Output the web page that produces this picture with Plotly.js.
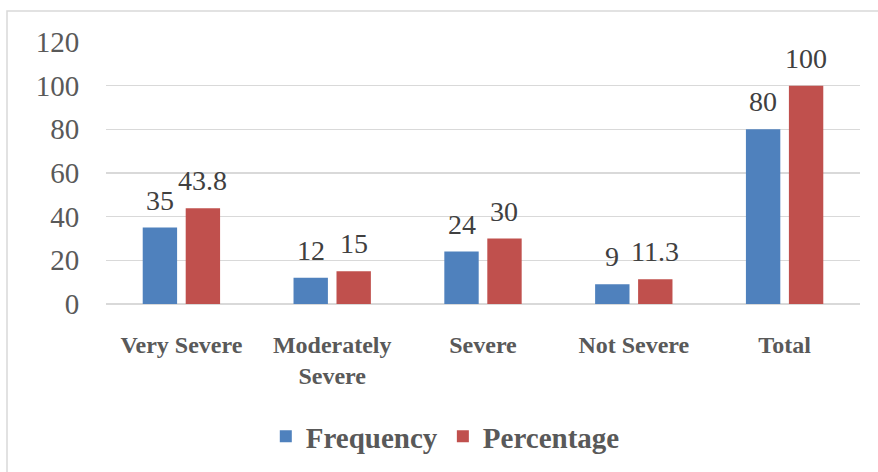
<!DOCTYPE html>
<html>
<head>
<meta charset="utf-8">
<script src="https://cdn.plot.ly/plotly-3.0.1.min.js"></script>
<style>
  html, body { margin: 0; padding: 0; background: #fff; }
  #chart { width: 878px; height: 472px; }
</style>
</head>
<body>
<div id="chart"></div>
<script>
// Severity levels and their counts / shares
const categories = ["Very Severe", "Moderately<br>Severe", "Severe", "Not Severe", "Total"];
const frequency = [35, 12, 24, 9, 80];
const percentage = [43.8, 15, 30, 11.3, 100];
const yTicks = [0, 20, 40, 60, 80, 100, 120];

const serif = "Liberation Serif";
const labelFont = { family: serif, size: 28, color: "#404040" };

const W = 878, H = 472;
const margin = { l: 106, r: 18, t: 42, b: 167 };
const bargap = 0.43, bargroupgap = 0.2;

// horizontal offset of each series' bar centre within its category slot
const catWidth = (W - margin.l - margin.r) / categories.length;
const slot = catWidth * (1 - bargap) / 2;

const series = [
  { name: "Frequency", values: frequency, color: "#4F81BD", shift: -slot / 2 },
  { name: "Percentage", values: percentage, color: "#C0504D", shift: slot / 2 }
];

const traces = series.map(s => ({
  type: "bar",
  name: s.name,
  x: categories,
  y: s.values,
  marker: { color: s.color },
  hoverinfo: "none"
}));

// value labels above each bar
const annotations = [];
series.forEach(s => {
  s.values.forEach((v, i) => {
    annotations.push({
      x: categories[i],
      y: v,
      xref: "x",
      yref: "y",
      text: String(v),
      showarrow: false,
      xanchor: "center",
      yanchor: "bottom",
      xshift: s.shift,
      yshift: 10,
      font: labelFont
    });
  });
});

const layout = {
  width: W,
  height: H,
  margin: margin,
  paper_bgcolor: "#ffffff",
  plot_bgcolor: "#ffffff",
  barmode: "group",
  bargap: bargap,
  bargroupgap: bargroupgap,
  showlegend: true,
  legend: {
    orientation: "h",
    x: 0.45,
    xanchor: "center",
    y: -0.50,
    yanchor: "middle",
    font: { family: serif, size: 29, color: "#595959", weight: "bold" },
    itemwidth: 30,
    tracegroupgap: 0
  },
  xaxis: {
    type: "category",
    tickfont: { family: serif, size: 24, color: "#595959", weight: "bold" },
    ticks: "outside",
    ticklen: 19,
    tickcolor: "rgba(0,0,0,0)",
    showline: false,
    showgrid: false,
    zeroline: false
  },
  yaxis: {
    range: [0, 120],
    tickvals: yTicks,
    ticktext: yTicks.map(String),
    tickfont: { family: serif, size: 29, color: "#595959" },
    ticks: "outside",
    ticklen: 20,
    tickcolor: "rgba(0,0,0,0)",
    showgrid: true,
    gridcolor: "#D9D9D9",
    gridwidth: 1.5,
    zeroline: true,
    zerolinecolor: "#D9D9D9",
    zerolinewidth: 1.5,
    showline: false
  },
  annotations: annotations,
  shapes: [
    {
      type: "rect",
      xref: "paper", yref: "paper",
      x0: (7 - margin.l) / (W - margin.l - margin.r),
      x1: (884 - margin.l) / (W - margin.l - margin.r),
      y0: ((H - margin.b) - 480) / (H - margin.t - margin.b),
      y1: ((H - margin.b) - 11) / (H - margin.t - margin.b),
      line: { color: "#D9D9D9", width: 1.5 },
      fillcolor: "rgba(0,0,0,0)",
      layer: "below"
    }
  ]
};

Plotly.newPlot("chart", traces, layout, { staticPlot: true, displayModeBar: false });
</script>
</body>
</html>
